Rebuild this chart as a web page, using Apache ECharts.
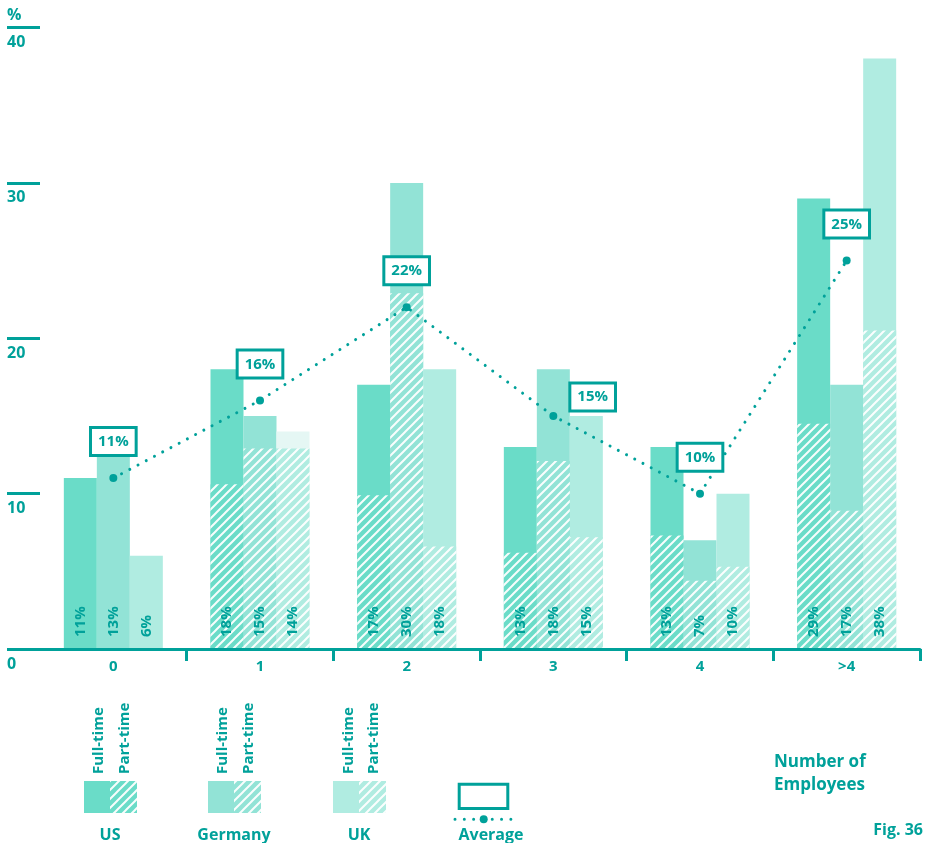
<!DOCTYPE html>
<html>
<head>
<meta charset="utf-8">
<style>
  html, body { margin: 0; padding: 0; background: #fff; }
  #chart { width: 925px; height: 843px; }
</style>
<script src="https://cdn.jsdelivr.net/npm/echarts@6/dist/echarts.min.js"></script>
</head>
<body>
<div id="chart"></div>
<script>
// Share of companies by number of employees (%), per country
const categories = ['0', '1', '2', '3', '4', '>4'];
const yTicks = [0, 10, 20, 30, 40];

// Full bar (labelled value)
const usTotal = [11, 18, 17, 13, 13, 29];
const deTotal = [13, 15, 30, 18, 7, 17];
const ukTotal = [6, 14, 18, 15, 10, 38];

// Hatched part-time portion
const usPart = [null, 10.6, 9.9, 6.2, 7.3, 14.5];
const dePart = [null, 12.9, 22.9, 12.1, 4.4, 8.9];
const ukPart = [null, 12.9, 6.6, 7.2, 5.3, 20.5];

// Average across countries
const average = [11, 16, 22, 15, 10, 25];

const TEAL = '#00a19a';
const US_C = '#6adcc8';
const DE_C = '#92e3d6';
const UK_C = '#b0ece1';
const UK_PALE = '#e5f7f4';
const FONT = '"Open Sans", "Noto Sans", sans-serif';

// Diagonal white stripe fill on a base colour
function stripes(base) {
  const s = 9;
  const c = document.createElement('canvas');
  c.width = s; c.height = s;
  const g = c.getContext('2d');
  g.fillStyle = base;
  g.fillRect(0, 0, s, s);
  g.strokeStyle = 'rgba(255,255,255,0.95)';
  g.lineWidth = 2;
  g.beginPath();
  g.moveTo(-2, s + 2); g.lineTo(s + 2, -2);
  g.moveTo(-2, 2); g.lineTo(2, -2);
  g.moveTo(s - 2, s + 2); g.lineTo(s + 2, s - 2);
  g.stroke();
  return { image: c, repeat: 'repeat' };
}

const chart = echarts.init(document.getElementById('chart'), null, { renderer: 'canvas' });

const barLabel = {
  show: true,
  position: 'insideBottom',
  rotate: 90,
  align: 'left',
  verticalAlign: 'middle',
  distance: 12,
  formatter: '{c}%',
  color: TEAL,
  fontFamily: FONT,
  fontWeight: 'bold',
  fontSize: 15
};

function totalSeries(name, data, color, overrides) {
  return {
    name: name,
    type: 'bar',
    xAxisIndex: 0,
    barWidth: 33,
    barGap: '0%',
    itemStyle: { color: color },
    z: 2,
    data: data.map((v, i) => overrides && overrides[i] ? Object.assign({ value: v }, overrides[i]) : v)
  };
}

function partSeries(name, data, color) {
  return {
    name: name,
    type: 'bar',
    xAxisIndex: 1,
    barWidth: 33,
    barGap: '0%',
    itemStyle: { color: stripes(color) },
    z: 3,
    data: data
  };
}

// Same totals again, unfilled, on top of the hatching so the value labels stay readable
function labelSeries(name, data) {
  return {
    name: name,
    type: 'bar',
    xAxisIndex: 2,
    barWidth: 33,
    barGap: '0%',
    itemStyle: { color: 'rgba(0,0,0,0)' },
    label: barLabel,
    silent: true,
    z: 4,
    data: data
  };
}

const avgLabel = {
  show: true,
  position: 'top',
  distance: 20,
  formatter: '{c}%',
  color: TEAL,
  fontFamily: FONT,
  fontWeight: 'bold',
  fontSize: 15,
  lineHeight: 16,
  backgroundColor: '#fff',
  borderColor: TEAL,
  borderWidth: 3,
  padding: [5, 6, 4, 6]
};

const avgData = average.map((v, i) => i === 3
  ? { value: v, label: { position: 'right', distance: 14, offset: [0, -19] } }
  : v);

const txt = (size) => 'bold ' + size + 'px ' + FONT;

const option = {
  animation: false,
  backgroundColor: '#fff',
  grid: { left: 40, right: 5, top: 27.5, bottom: 194, containLabel: false },
  xAxis: [
    {
      type: 'category',
      data: categories,
      z: 6,
      axisLine: { show: true, lineStyle: { color: TEAL, width: 3 } },
      axisTick: {
        show: true,
        length: 12,
        interval: (idx) => idx !== 0,
        lineStyle: { color: TEAL, width: 3 }
      },
      axisLabel: {
        color: TEAL, fontFamily: FONT, fontWeight: 'bold', fontSize: 15, margin: 10
      }
    },
    { type: 'category', data: categories, show: false },
    { type: 'category', data: categories, show: false }
  ],
  yAxis: {
    type: 'value',
    min: 0,
    max: 40,
    interval: 10,
    splitLine: { show: false },
    axisLine: { show: false },
    axisTick: { show: true, length: 33, lineStyle: { color: TEAL, width: 3 } },
    axisLabel: {
      color: TEAL,
      fontFamily: FONT,
      fontWeight: 'bold',
      fontSize: 16,
      align: 'left',
      verticalAlign: 'top',
      margin: 33,
      padding: [7, 0, 0, 0],
      customValues: yTicks,
      formatter: (v) => String(v)
    }
  },
  series: [
    totalSeries('US', usTotal, US_C),
    totalSeries('Germany', deTotal, DE_C),
    totalSeries('UK', ukTotal, UK_C, { 1: { itemStyle: { color: UK_PALE } } }),
    partSeries('US part-time', usPart, US_C),
    partSeries('Germany part-time', dePart, DE_C),
    partSeries('UK part-time', ukPart, UK_C),
    labelSeries('US labels', usTotal),
    labelSeries('Germany labels', deTotal),
    labelSeries('UK labels', ukTotal),
    {
      name: 'Average',
      type: 'line',
      xAxisIndex: 0,
      z: 10,
      symbol: 'circle',
      symbolSize: 8,
      itemStyle: { color: TEAL },
      lineStyle: { color: TEAL, width: 3, type: [0.01, 9.3], cap: 'round' },
      label: avgLabel,
      data: avgData
    }
  ],
  graphic: {
    elements: [
      { type: 'text', left: 7, top: 7, style: { text: '%', fill: TEAL, font: txt(16) } },

      // legend: US
      { type: 'rect', shape: { x: 84, y: 781, width: 26, height: 32 }, style: { fill: US_C } },
      { type: 'rect', shape: { x: 110, y: 781, width: 27, height: 32 }, style: { fill: stripes(US_C) } },
      { type: 'text', x: 99, y: 774, rotation: Math.PI / 2, style: { text: 'Full-time', fill: TEAL, font: txt(15), align: 'left', verticalAlign: 'middle' } },
      { type: 'text', x: 125, y: 774, rotation: Math.PI / 2, style: { text: 'Part-time', fill: TEAL, font: txt(15), align: 'left', verticalAlign: 'middle' } },
      { type: 'text', x: 110, y: 835, style: { text: 'US', fill: TEAL, font: txt(16), align: 'center', verticalAlign: 'middle' } },

      // legend: Germany
      { type: 'rect', shape: { x: 208, y: 781, width: 26, height: 32 }, style: { fill: DE_C } },
      { type: 'rect', shape: { x: 234, y: 781, width: 27, height: 32 }, style: { fill: stripes(DE_C) } },
      { type: 'text', x: 223, y: 774, rotation: Math.PI / 2, style: { text: 'Full-time', fill: TEAL, font: txt(15), align: 'left', verticalAlign: 'middle' } },
      { type: 'text', x: 249, y: 774, rotation: Math.PI / 2, style: { text: 'Part-time', fill: TEAL, font: txt(15), align: 'left', verticalAlign: 'middle' } },
      { type: 'text', x: 234, y: 835, style: { text: 'Germany', fill: TEAL, font: txt(16), align: 'center', verticalAlign: 'middle' } },

      // legend: UK
      { type: 'rect', shape: { x: 333, y: 781, width: 26, height: 32 }, style: { fill: UK_C } },
      { type: 'rect', shape: { x: 359, y: 781, width: 27, height: 32 }, style: { fill: stripes(UK_C) } },
      { type: 'text', x: 348.5, y: 774, rotation: Math.PI / 2, style: { text: 'Full-time', fill: TEAL, font: txt(15), align: 'left', verticalAlign: 'middle' } },
      { type: 'text', x: 374, y: 774, rotation: Math.PI / 2, style: { text: 'Part-time', fill: TEAL, font: txt(15), align: 'left', verticalAlign: 'middle' } },
      { type: 'text', x: 359, y: 835, style: { text: 'UK', fill: TEAL, font: txt(16), align: 'center', verticalAlign: 'middle' } },

      // legend: Average
      { type: 'rect', shape: { x: 459.2, y: 784.2, width: 48.6, height: 24.3 }, style: { fill: '#fff', stroke: TEAL, lineWidth: 3 } },
      { type: 'line', shape: { x1: 455, y1: 819.3, x2: 515, y2: 819.3 }, style: { stroke: TEAL, lineWidth: 3, lineDash: [0.01, 9.3], lineCap: 'round' } },
      { type: 'circle', shape: { cx: 483.7, cy: 819.3, r: 4 }, style: { fill: TEAL } },
      { type: 'text', x: 491, y: 835, style: { text: 'Average', fill: TEAL, font: txt(16), align: 'center', verticalAlign: 'middle' } },

      // axis title and figure number
      { type: 'text', x: 774, y: 751, style: { text: 'Number of\nEmployees', fill: TEAL, font: txt(17), lineHeight: 23 } },
      { type: 'text', x: 923, y: 830, style: { text: 'Fig. 36', fill: TEAL, font: txt(16), align: 'right', verticalAlign: 'middle' } }
    ]
  }
};

chart.setOption(option);
</script>
</body>
</html>
